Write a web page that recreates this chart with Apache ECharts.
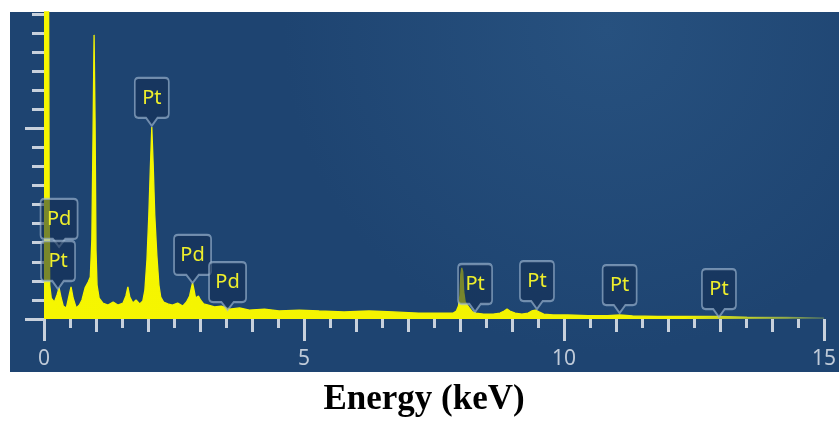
<!DOCTYPE html>
<html>
<head>
<meta charset="utf-8">
<style>
  html, body { margin: 0; padding: 0; background: #ffffff; }
  #chart { width: 839px; height: 427px; }
</style>
<script src="https://cdn.jsdelivr.net/npm/echarts@6/dist/echarts.min.js"></script>
</head>
<body>
<div id="chart"></div>
<script>
// EDS spectrum: energy (keV) and counts
const energy = [0.00,0.02,0.05,0.08,0.10,0.11,0.14,0.20,0.25,0.29,0.33,0.37,0.43,0.48,0.52,0.56,0.62,0.68,0.73,0.79,
  0.85,0.89,0.92,0.944,0.963,0.982,1.00,1.02,1.06,1.13,1.23,1.33,1.42,1.52,1.575,1.613,1.65,1.71,1.77,1.84,
  1.90,1.94,1.98,2.016,2.044,2.073,2.10,2.13,2.17,2.21,2.245,2.30,2.38,2.47,2.57,2.67,2.74,2.80,2.838,2.857,
  2.886,2.915,2.97,3.01,3.07,3.16,3.28,3.41,3.57,3.76,3.95,4.24,4.52,4.91,5.29,5.77,6.25,6.72,7.20,7.68,
  7.87,7.93,7.97,8.00,8.015,8.034,8.053,8.072,8.10,8.14,8.18,8.24,8.31,8.45,8.64,8.77,8.85,8.905,8.96,9.06,
  9.19,9.31,9.38,9.45,9.52,9.61,9.79,10.07,10.46,10.84,11.07,11.32,11.80,12.37,12.98,13.52,14.28,15.00];
const counts = [2600,3000,3000,2400,600,178,110,89,126,163,110,68,58,121,168,110,58,73,100,163,
  194,220,415,992,1490,1044,362,178,110,84,73,89,73,84,121,168,115,84,100,79,
  94,152,310,546,782,1007,808,546,336,178,115,89,79,73,84,68,89,121,168,189,
  152,110,121,100,79,73,63,68,52,58,47,52,42,47,42,37,42,37,31,31,
  31,42,68,126,231,268,247,142,89,73,58,37,31,26,26,31,42,52,42,31,
  26,31,42,47,37,26,21,21,18,18,21,16,13,13,13,10,8,5];

// Element line markers
const peakNames  = ['Pd', 'Pt', 'Pt', 'Pd', 'Pd', 'Pt', 'Pt', 'Pt', 'Pt'];
const peakEnergy = [0.29, 0.27, 2.073, 2.857, 3.53, 8.29, 9.48, 11.07, 12.98];
const peakCounts = [378, 157, 1013, 189, 47, 37, 52, 31, 10];

// Axis ticks
const xMajorLabels = [0, 5, 10, 15];
const xTicksInt = [];
for (let v = 0; v <= 15; v += 1) xTicksInt.push(v);
const xTicksHalf = [];
for (let v = 0.5; v < 15; v += 1) xTicksHalf.push(v);
const yTicksShort = [];
for (let v = 0; v <= 1600; v += 100) yTicksShort.push(v);
const yTicksLong = [0, 1000];

const X_MAX = 15, Y_MAX = 1610;
const tickColor = '#c8d1dc';

const chart = echarts.init(document.getElementById('chart'), null, { renderer: 'canvas' });

const calloutPath = 'path://M4,0 H32 Q36,0 36,4 V36 Q36,40 32,40 H24 L18,48 L12,40 H4 Q0,40 0,36 V4 Q0,0 4,0 Z';

function xAxisBase(extra) {
  return Object.assign({
    type: 'value', min: 0, max: X_MAX, position: 'bottom', offset: 4,
    axisLine: { show: false }, splitLine: { show: false },
    axisLabel: { show: false }
  }, extra);
}
function yAxisBase(extra) {
  return Object.assign({
    type: 'value', min: 0, max: Y_MAX, position: 'left', offset: 13,
    axisLine: { show: false }, splitLine: { show: false },
    axisLabel: { show: false }
  }, extra);
}

chart.setOption({
  backgroundColor: '#ffffff',
  animation: false,
  graphic: [{
    type: 'rect', z: -10, silent: true,
    shape: { x: 10, y: 12, width: 829, height: 360 },
    style: {
      fill: new echarts.graphic.RadialGradient(0.72, 0.05, 0.9, [
        { offset: 0, color: '#27517f' },
        { offset: 1, color: '#1e4471' }
      ])
    }
  }],
  grid: { left: 44, right: 12, top: 12, bottom: 108 },
  xAxis: [
    xAxisBase({
      axisTick: { show: true, customValues: xTicksHalf, length: 9, lineStyle: { color: tickColor, width: 3 } }
    }),
    xAxisBase({
      axisTick: { show: true, customValues: xTicksInt, length: 13, lineStyle: { color: tickColor, width: 3 } }
    }),
    xAxisBase({
      axisTick: { show: true, customValues: xMajorLabels, length: 18, lineStyle: { color: tickColor, width: 3 } },
      axisLabel: {
        show: true, customValues: xMajorLabels, margin: 26,
        color: '#bfcad8', fontSize: 21, fontFamily: 'Noto Sans'
      },
      name: 'Energy (keV)', nameLocation: 'middle', nameGap: 59,
      nameTextStyle: {
        color: '#000000', fontSize: 35, fontWeight: 'bold',
        fontFamily: 'Liberation Serif', padding: [0, 20, 0, 0]
      }
    })
  ],
  yAxis: [
    yAxisBase({
      axisTick: { show: true, customValues: yTicksShort, length: 12, lineStyle: { color: tickColor, width: 3 } }
    }),
    yAxisBase({
      axisTick: { show: true, customValues: yTicksLong, length: 19, lineStyle: { color: tickColor, width: 3 } }
    })
  ],
  series: [{
    type: 'line',
    xAxisIndex: 0, yAxisIndex: 0,
    data: energy.map((e, i) => [e, counts[i]]),
    showSymbol: false,
    sampling: null,
    lineStyle: {
      width: 1.3,
      color: new echarts.graphic.LinearGradient(0, 0, 1, 0, [
        { offset: 0, color: '#f6f600' },
        { offset: 0.82, color: '#f2f200' },
        { offset: 1, color: 'rgba(190,215,70,0.35)' }
      ])
    },
    areaStyle: {
      opacity: 1,
      color: new echarts.graphic.LinearGradient(0, 0, 1, 0, [
        { offset: 0, color: '#f6f600' },
        { offset: 0.82, color: '#f2f200' },
        { offset: 1, color: 'rgba(190,215,70,0.35)' }
      ])
    },
    markPoint: {
      symbol: calloutPath,
      symbolKeepAspect: false,
      symbolOffset: [0, '-50%'],
      itemStyle: {
        color: 'rgba(18,44,80,0.55)',
        borderColor: 'rgba(160,185,210,0.65)',
        borderWidth: 2
      },
      label: {
        show: true, formatter: '{b}', offset: [0, -4],
        color: '#eeee2c', fontSize: 20, fontFamily: 'Noto Sans'
      },
      data: peakNames.map((n, i) => ({
        name: n,
        coord: [peakEnergy[i], peakCounts[i]],
        symbolSize: n === 'Pd' ? [37, 48] : [34, 48]
      }))
    }
  }]
});
</script>
</body>
</html>
